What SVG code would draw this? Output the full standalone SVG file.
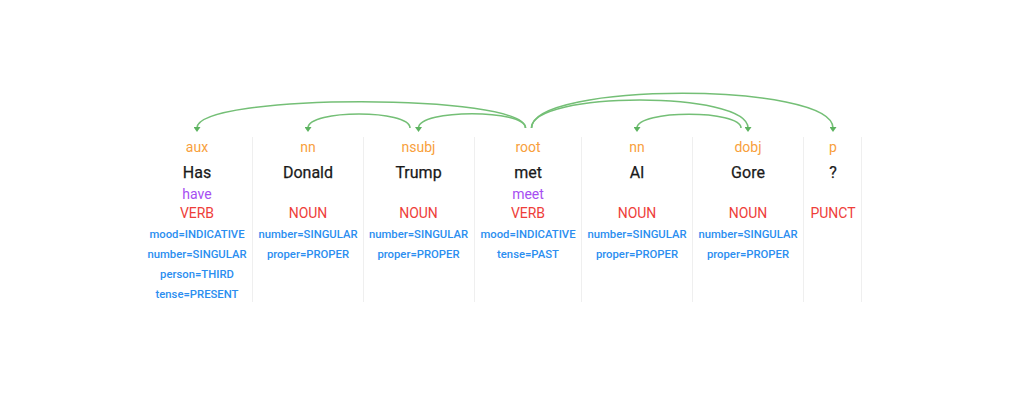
<svg xmlns="http://www.w3.org/2000/svg" width="1024" height="395" viewBox="0 0 1024 395">
<style>
text{font-family:Roboto,"Liberation Sans",sans-serif;text-anchor:middle}
.lab{font-size:14px;fill:#f8a03c}
.w{font-size:16px;fill:#1a1a1a;stroke:#1a1a1a;stroke-width:0.25}
.lem{font-size:14px;fill:#a64ef2}
.pos{font-size:14px;fill:#ee3e3a}
.f{font-size:11.3px;font-weight:500;fill:#2b8ef0}
.div{stroke:#efefef;stroke-width:1}
.arc{fill:none;stroke:#74bf76;stroke-width:1.6;marker-end:url(#ah)}
</style>
<defs>
<marker id="ah" markerUnits="userSpaceOnUse" viewBox="0 -3.5 5 7" markerWidth="5" markerHeight="7" refX="1" refY="0" orient="auto">
<path d="M0,-3.5 L5,0 L0,3.5 z" fill="#5cb35f"/>
</marker>
</defs>
<rect width="1024" height="395" fill="#ffffff"/>
<g id="connectors">
<path class="arc" d="M525.5 128 C525.5 93 197 93 197 128"/>
<path class="arc" d="M525.5 128 C525.5 109 418.5 109 418.5 128"/>
<path class="arc" d="M410 128 C410 109.3 308 109.3 308 128"/>
<path class="arc" d="M531.5 128 C531.5 90.7 748 90.7 748 128"/>
<path class="arc" d="M531.5 128 C531.5 81.7 833 81.7 833 128"/>
<path class="arc" d="M741 128 C741 109.7 637 109.7 637 128"/>
</g>
<g id="node-has">
<line class="div" x1="252.5" y1="137" x2="252.5" y2="302"/>
<text class="lab" x="197" y="152">aux</text>
<text class="w" x="197" y="178">Has</text>
<text class="lem" x="197" y="199">have</text>
<text class="pos" x="197" y="218">VERB</text>
<text class="f" x="197" y="238">mood=INDICATIVE</text>
<text class="f" x="197" y="258">number=SINGULAR</text>
<text class="f" x="197" y="278">person=THIRD</text>
<text class="f" x="197" y="298">tense=PRESENT</text>
</g>
<g id="node-donald">
<line class="div" x1="363.5" y1="137" x2="363.5" y2="302"/>
<text class="lab" x="308" y="152">nn</text>
<text class="w" x="308" y="178">Donald</text>
<text class="pos" x="308" y="218">NOUN</text>
<text class="f" x="308" y="238">number=SINGULAR</text>
<text class="f" x="308" y="258">proper=PROPER</text>
</g>
<g id="node-trump">
<line class="div" x1="474.5" y1="137" x2="474.5" y2="302"/>
<text class="lab" x="418.5" y="152">nsubj</text>
<text class="w" x="418.5" y="178">Trump</text>
<text class="pos" x="418.5" y="218">NOUN</text>
<text class="f" x="418.5" y="238">number=SINGULAR</text>
<text class="f" x="418.5" y="258">proper=PROPER</text>
</g>
<g id="node-met">
<line class="div" x1="581.5" y1="137" x2="581.5" y2="302"/>
<text class="lab" x="528" y="152">root</text>
<text class="w" x="528" y="178">met</text>
<text class="lem" x="528" y="199">meet</text>
<text class="pos" x="528" y="218">VERB</text>
<text class="f" x="528" y="238">mood=INDICATIVE</text>
<text class="f" x="528" y="258">tense=PAST</text>
</g>
<g id="node-al">
<line class="div" x1="692.5" y1="137" x2="692.5" y2="302"/>
<text class="lab" x="637" y="152">nn</text>
<text class="w" x="637" y="178">Al</text>
<text class="pos" x="637" y="218">NOUN</text>
<text class="f" x="637" y="238">number=SINGULAR</text>
<text class="f" x="637" y="258">proper=PROPER</text>
</g>
<g id="node-gore">
<line class="div" x1="803.5" y1="137" x2="803.5" y2="302"/>
<text class="lab" x="748" y="152">dobj</text>
<text class="w" x="748" y="178">Gore</text>
<text class="pos" x="748" y="218">NOUN</text>
<text class="f" x="748" y="238">number=SINGULAR</text>
<text class="f" x="748" y="258">proper=PROPER</text>
</g>
<g id="node-q">
<line class="div" x1="861.5" y1="137" x2="861.5" y2="302"/>
<text class="lab" x="833" y="152">p</text>
<text class="w" x="833" y="178">?</text>
<text class="pos" x="833" y="218">PUNCT</text>
</g>
</svg>
